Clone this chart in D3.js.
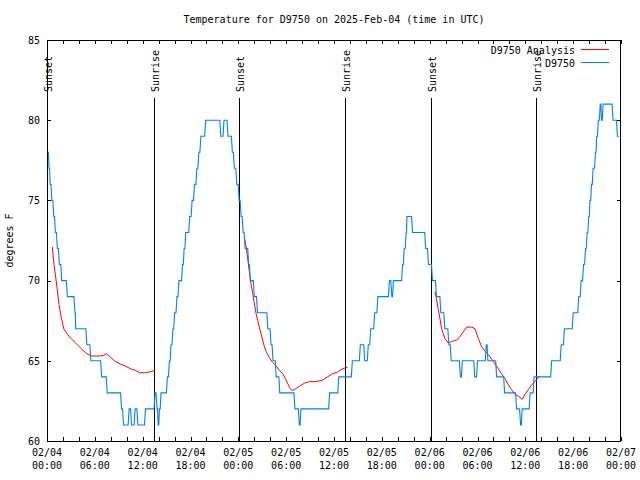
<!DOCTYPE html>
<html><head><meta charset="utf-8">
<script src="https://cdn.jsdelivr.net/npm/d3@7"></script>
<style>
body{margin:0;background:#fff;}
text{font-family:"DejaVu Sans Mono",monospace;font-size:10px;fill:#000;}
</style></head>
<body><svg id="c" width="640" height="480"></svg>
<script>
// ---- data ----
const titleText = "Temperature for D9750 on 2025-Feb-04 (time in UTC)";
const yLabel = "degrees F";
const yTicks = [60, 65, 70, 75, 80, 85];
const xMajorHours = [0, 6, 12, 18, 24, 30, 36, 42, 48, 54, 60, 66, 72];
const xDateLabels = ["02/04","02/04","02/04","02/04","02/05","02/05","02/05","02/05","02/06","02/06","02/06","02/06","02/07"];
const xTimeLabels = ["00:00","06:00","12:00","18:00","00:00","06:00","12:00","18:00","00:00","06:00","12:00","18:00","00:00"];
const sunHours = [0.04, 13.42, 24.1, 37.42, 48.2, 61.4];
const sunLabels = ["Sunset","Sunrise","Sunset","Sunrise","Sunset","Sunrise"];
const seriesNames = ["D9750 Analysis", "D9750"];

// observed temperature (hours since 02/04 00:00 UTC, level starts)
const obsHours = [0.1,0.25,0.4,0.6,0.85,1.05,1.3,1.55,1.85,2.55,3.5,3.6,5.0,5.5,6.85,7.55,9.35,9.6,10.3,10.6,11.05,11.4,12.35,13.55,13.8,13.95,14.1,14.3,15.1,15.35,15.55,15.8,16.0,16.3,16.55,17.0,17.2,17.4,17.9,18.2,18.5,18.8,19.05,19.3,19.9,21.8,22.2,22.7,23.25,23.5,23.8,24.1,
24.35,24.6,24.85,25.3,25.5,26.0,26.4,27.7,28.1,28.35,28.75,29.2,31.1,31.65,31.85,35.45,36.6,38.3,39.3,39.85,40.3,40.6,41.1,41.5,42.95,43.25,43.45,44.6,44.8,45.05,45.15,45.85,47.5,47.85,48.35,48.85,49.4,49.9,50.4,50.7,51.85,52.1,53.65,54.0,55.1,55.3,56.4,57.4,58.9,59.4,59.6,60.6,61.1,63.3,64.5,64.9,66.0,66.7,67.0,67.3,67.55,67.75,67.95,68.1,68.3,68.5,68.8,68.95,69.15,69.4,69.55,69.75,71.0,71.55,71.75];
const obsTemps = [78,77,76,75,74,73,72,71,70,69,68,67,66,65,64,63,62,61,62,61,62,61,62,63,62,61,62,63,64,65,66,67,68,69,70,71,72,73,74,75,76,77,78,79,80,79,80,79,78,77,76,75,
74,73,72,71,70,69,68,67,66,65,64,63,62,61,62,63,64,65,66,65,66,67,68,69,70,69,70,71,72,73,74,73,72,71,70,69,68,67,66,65,64,65,64,65,66,65,64,63,62,61,62,63,64,65,66,67,68,69,70,71,72,73,74,75,76,77,78,79,80,81,80,81,80,79,79];

// analysis (three nightly segments)
const anaHours1 = [0.67,0.88,1.09,1.3,1.5,1.8,2.1,2.5,3.0,3.6,4.2,4.85,5.5,6.7,7.1,7.5,8.0,8.6,9.2,9.9,10.5,11.1,11.7,12.2,12.8,13.5];
const anaTemps1 = [72.1,71.0,70.2,69.4,68.5,67.7,67.0,66.7,66.4,66.1,65.8,65.5,65.3,65.3,65.35,65.45,65.2,64.95,64.8,64.65,64.5,64.4,64.25,64.25,64.3,64.4];
const anaHours2 = [24.75,24.96,25.17,25.38,25.59,25.8,26.0,26.22,26.43,26.63,26.84,27.05,27.26,27.47,27.89,28.3,28.72,29.14,29.56,29.89,30.18,30.47,30.72,31.02,31.64,32.27,32.9,33.73,34.57,35.2,35.83,36.45,37.07,37.7];
const anaTemps2 = [72.7,72.15,71.4,70.56,69.8,69.2,68.6,67.96,67.5,67.1,66.7,66.3,65.9,65.6,65.2,64.9,64.7,64.4,64.2,63.9,63.6,63.3,63.15,63.2,63.4,63.6,63.7,63.7,63.8,64.0,64.2,64.3,64.5,64.6];
const anaHours3 = [48.67,48.88,49.09,49.3,49.5,49.7,49.9,50.34,50.76,51.39,51.8,52.2,52.64,53.27,53.68,54.1,54.5,54.94,55.36,55.78,56.2,56.6,57.0,57.45,57.87,58.28,58.7,59.1,59.62,59.95,60.37,60.8,61.34,61.84];
const anaTemps3 = [69.3,68.8,68.2,67.6,67.0,66.7,66.4,66.1,66.2,66.3,66.5,66.8,67.1,67.1,67.0,66.4,65.9,65.6,65.4,65.1,64.8,64.5,64.2,63.9,63.5,63.2,62.9,62.8,62.6,62.9,63.2,63.5,63.8,64.05];

// ---- drawing ----
const svg = d3.select("#c");
const L = 47, R = 621, T = 40, B = 441;
const x = d3.scaleLinear().domain([0, 72]).range([L, R]);
const y = d3.scaleLinear().domain([60, 85]).range([B, T]);
const RED = "#ff0000", BLUE = "#0080ff";

svg.append("text").attr("x", (L + R) / 2).attr("y", 23).attr("text-anchor", "middle").text(titleText);
svg.append("text").attr("transform", `translate(13,${(T + B) / 2}) rotate(-90)`).attr("text-anchor", "middle").text(yLabel);

// axes
const minorH = d3.range(0, 73, 2);
svg.append("g").attr("transform", `translate(0,${B})`)
  .call(d3.axisBottom(x).tickValues(minorH).tickSize(-4).tickFormat(""))
  .call(g => g.select(".domain").remove());
svg.append("g").attr("transform", `translate(0,${T})`)
  .call(d3.axisTop(x).tickValues(minorH).tickSize(-4).tickFormat(""))
  .call(g => g.select(".domain").remove());
svg.append("g").attr("transform", `translate(${L},0)`)
  .call(d3.axisLeft(y).tickValues(yTicks).tickSize(-4).tickPadding(7).tickFormat(d3.format("d")))
  .call(g => g.select(".domain").remove())
  .call(g => g.selectAll("text").style("font-family", '"DejaVu Sans Mono",monospace').style("font-size", "10px"));
svg.append("g").attr("transform", `translate(${R},0)`)
  .call(d3.axisRight(y).tickValues(yTicks).tickSize(-4).tickFormat(""))
  .call(g => g.select(".domain").remove());
svg.selectAll(".tick line").attr("stroke", "#000").attr("shape-rendering", "crispEdges");

const xl = svg.append("g");
xMajorHours.forEach((h, i) => {
  xl.append("text").attr("x", x(h)).attr("y", 456).attr("text-anchor", "middle").text(xDateLabels[i]);
  xl.append("text").attr("x", x(h)).attr("y", 469).attr("text-anchor", "middle").text(xTimeLabels[i]);
});

// sunrise / sunset
sunHours.forEach((h, i) => {
  const px = Math.round(x(h)) + 0.5;
  svg.append("line").attr("x1", px).attr("x2", px).attr("y1", 98).attr("y2", B)
    .attr("stroke", "#000").attr("stroke-width", 1).attr("shape-rendering", "crispEdges");
  svg.append("text").attr("transform", `translate(${px + 4},92) rotate(-90)`).text(sunLabels[i]);
});

// data lines
const line = d3.line().x(d => x(d[0])).y(d => y(d[1]));
[[anaHours1, anaTemps1], [anaHours2, anaTemps2], [anaHours3, anaTemps3]].forEach(([hs, ts]) => {
  svg.append("path").datum(hs.map((h, i) => [h, ts[i]])).attr("d", line)
    .attr("fill", "none").attr("stroke", RED).attr("stroke-width", 1);
});
// observations: each level holds until the next report, joined by a short sloped transition
const obs = [];
obsHours.forEach((h, i) => {
  if (i > 0) {
    const d = Math.min(0.12, (h - obsHours[i - 1]) / 2);
    obs.push([h - d, obsTemps[i - 1]]);
  }
  obs.push([h, obsTemps[i]]);
});
svg.append("path").datum(obs).attr("d", line)
  .attr("fill", "none").attr("stroke", BLUE).attr("stroke-width", 1.1);

// border
svg.append("rect").attr("x", L + 0.5).attr("y", T + 0.5).attr("width", R - L - 1).attr("height", B - T)
  .attr("fill", "none").attr("stroke", "#000").attr("shape-rendering", "crispEdges");

// legend
const lg = svg.append("g");
[RED, BLUE].forEach((c, i) => {
  const ly = 50 + i * 13;
  lg.append("text").attr("x", 575).attr("y", ly + 4).attr("text-anchor", "end").text(seriesNames[i]);
  lg.append("line").attr("x1", 581).attr("x2", 609).attr("y1", ly - 0.5).attr("y2", ly - 0.5).attr("stroke", c);
});
</script></body></html>
